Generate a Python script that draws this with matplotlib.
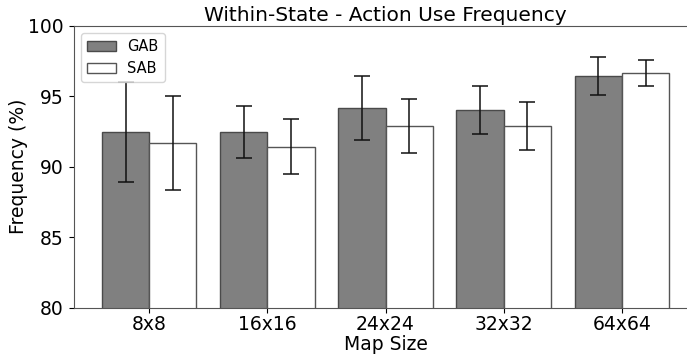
import matplotlib
matplotlib.use("Agg")
import matplotlib.pyplot as plt
import numpy as np

categories = ["8x8", "16x16", "24x24", "32x32", "64x64"]
gab_mean = [92.49, 92.49, 94.17, 94.02, 96.45]
gab_err = [3.54, 1.85, 2.29, 1.69, 1.36]
sab_mean = [91.71, 91.43, 92.87, 92.91, 96.62]
sab_err = [3.32, 1.95, 1.90, 1.70, 0.93]

fig = plt.figure(figsize=(6.87, 3.56), dpi=100)
ax = fig.add_axes([0.107, 0.135, 0.9083, 0.793])

x = np.arange(len(categories))
w = 0.4
ekw = dict(elinewidth=1.1, capthick=1.1, ecolor="#111111")
ax.bar(x - w/2, gab_mean, w, yerr=gab_err, color="#808080", edgecolor="#4a4a4a",
       linewidth=1, capsize=5.5, error_kw=ekw, label="GAB")
ax.bar(x + w/2, sab_mean, w, yerr=sab_err, color="white", edgecolor="#555555",
       linewidth=1, capsize=5.5, error_kw=ekw, label="SAB")

ax.set_ylim(80, 100)
ax.set_xlim(-0.64, 4.64)
ax.set_yticks([80, 85, 90, 95, 100])
ax.set_xticks(x)
ax.set_xticklabels(categories)
ax.tick_params(labelsize=13.5)
ax.tick_params(axis="x", pad=1.5)
ax.set_xlabel("Map Size", fontsize=13.5, labelpad=1)
ax.set_ylabel("Frequency (%)", fontsize=13.5, labelpad=0)
ax.set_title("Within-State - Action Use Frequency", fontsize=14.5, pad=3)
for s in ax.spines.values():
    s.set_color("#555555")
ax.legend(loc="upper left", fontsize=10.5)

fig.savefig("out.png", dpi=100)
